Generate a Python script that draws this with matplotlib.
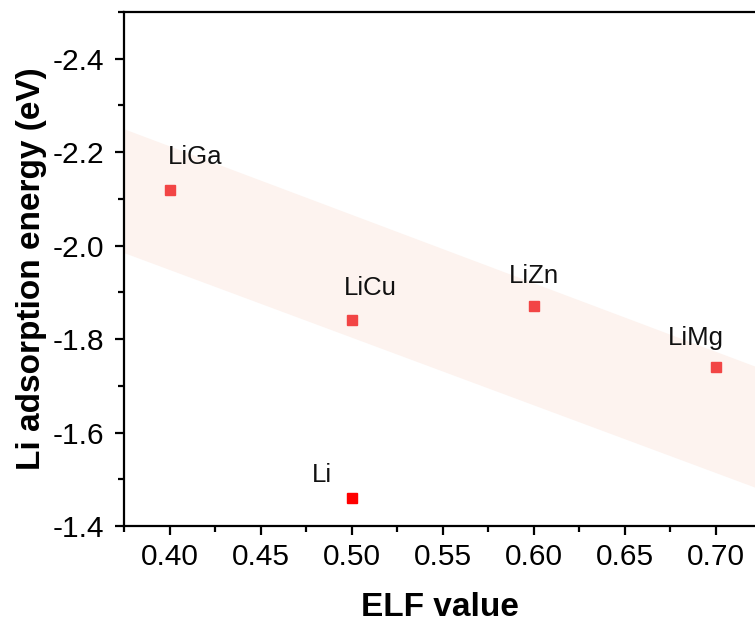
import matplotlib
matplotlib.use("Agg")
import matplotlib.pyplot as plt
import numpy as np
from matplotlib.ticker import MultipleLocator, FormatStrFormatter

plt.rcParams['font.family'] = ['Liberation Sans', 'DejaVu Sans']

# Data
names = ["LiGa", "LiCu", "LiZn", "LiMg", "Li"]
elf = [0.40, 0.50, 0.60, 0.70, 0.50]
energy = [-2.12, -1.84, -1.87, -1.74, -1.46]
colors = ["#F24545", "#F24545", "#F24545", "#F24545", "#FF0000"]
label_offsets = [(26, 26), (19, 25), (0, 23), (-20, 22), (-30, 16)]

# Trend band (upper and lower edges at the axis limits)
band_x = [0.375, 0.7215]
band_upper = [-2.25, -1.742]
band_lower = [-1.985, -1.483]

fig = plt.figure(figsize=(7.55, 6.22), dpi=100)
ax = fig.add_axes([124/755, 1 - 526/622, 1 - 124/755, (526 - 12)/622])

ax.fill_between(band_x, band_upper, band_lower, color="#FDF3EF", lw=0, zorder=0)

for n, x, y, c, off in zip(names, elf, energy, colors, label_offsets):
    ax.plot(x, y, marker="s", ms=7.5, color=c, mec=c, ls="none", zorder=3)
    ax.annotate(n, (x, y), xytext=off, textcoords="offset pixels",
                ha="center", va="baseline", fontsize=18.5, color="#111111")

ax.set_xlim(0.375, 0.7215)
ax.set_ylim(-1.4, -2.5)

ax.xaxis.set_major_locator(MultipleLocator(0.05))
ax.xaxis.set_minor_locator(MultipleLocator(0.025))
ax.yaxis.set_major_locator(MultipleLocator(0.2))
ax.yaxis.set_minor_locator(MultipleLocator(0.1))
ax.xaxis.set_major_formatter(FormatStrFormatter("%.2f"))
ax.yaxis.set_major_formatter(FormatStrFormatter("%.1f"))

ax.tick_params(which="major", direction="out", length=6.5, width=1.6, labelsize=21.5)
ax.tick_params(axis="x", which="major", pad=6)
ax.tick_params(axis="y", which="major", pad=8)
ax.tick_params(which="minor", direction="out", length=4, width=1.6)
for s in ["left", "bottom", "top"]:
    ax.spines[s].set_linewidth(1.6)
ax.spines["right"].set_visible(False)

ax.set_xlabel("ELF value", fontsize=24, fontweight="bold", labelpad=15)
ax.set_ylabel("Li adsorption energy (eV)", fontsize=24, fontweight="bold", labelpad=4)

fig.savefig("out.png", dpi=100)
